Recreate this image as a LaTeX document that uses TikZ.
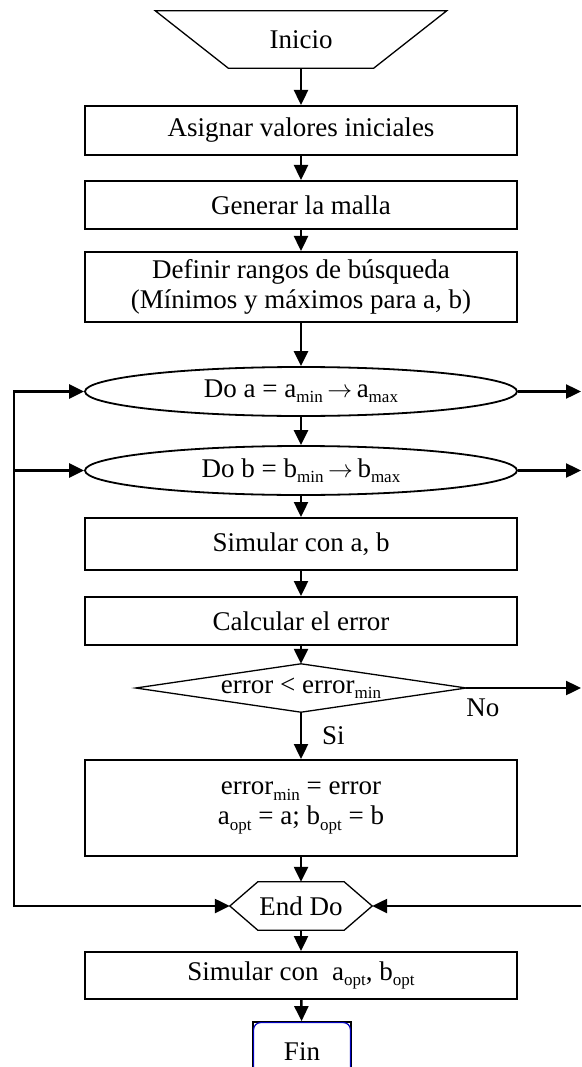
\documentclass[tikz,border=0pt]{standalone}
\usepackage{fontspec}
\setmainfont{Liberation Serif}
\usetikzlibrary{arrows.meta,calc,shapes.geometric}
% small lowered index, e.g. a_min
\newcommand{\lo}[1]{\raisebox{-0.2em}{\fontsize{17}{17}\selectfont #1}}
\newcommand{\goesto}{\,$\rightarrow$\,}

\begin{document}
\begin{tikzpicture}[x=1pt,y=-1pt,
  every node/.style={font=\fontsize{27}{30}\selectfont, inner sep=0pt, align=center},
  procbox/.style={draw, line width=2pt, minimum width=432pt},
  loopbox/.style={ellipse, draw, line width=1.8pt, minimum width=432pt, minimum height=49pt},
  flow/.style={line width=2.4pt, -{Triangle[length=15pt,width=14pt]}},
  thinline/.style={line width=1.3pt}]
\useasboundingbox (0,0) rectangle (581,1067);
\clip (0,0) rectangle (581,1067);

% start terminal (trapezoid)
\node[minimum width=145pt, minimum height=57pt] (ini) at (301,39.5) {Inicio};
\draw[thinline] ($(ini.north west)+(-73,0)$) -- ($(ini.north east)+(73,0)$)
  -- (ini.south east) -- (ini.south west) -- cycle;

% process steps
\node[procbox, minimum height=49pt] (b1) at (301,130.5) {Asignar valores iniciales};
\node[procbox, minimum height=48pt] (b2) at (301,205) {Generar la malla};
\node[procbox, minimum height=70pt] (b3) at (301,287) {Definir rangos de búsqueda\\(Mínimos y máximos para a, b)};
\node[loopbox] (ea) at (301,391.5) {Do a = a\lo{min}\goesto a\lo{max}};
\node[loopbox] (eb) at (301,470.5) {Do b = b\lo{min}\goesto b\lo{max}};
\node[procbox, minimum height=52pt] (s1) at (301,544) {Simular con a, b};
\node[procbox, minimum height=48pt] (ce) at (301,621) {Calcular el error};

% decision
\node[minimum width=330pt, minimum height=48pt] (dia) at (301,688) {error < error\lo{min}};
\draw[thinline] (dia.west) -- (dia.north) -- (dia.east) -- (dia.south) -- cycle;

\node[procbox, minimum height=96pt] (up) at (301,808) {error\lo{min} = error\\a\lo{opt} = a; b\lo{opt} = b};

% loop end (hexagon)
\node[minimum width=142pt, minimum height=48pt] (ed) at (301,906) {End Do};
\draw[thinline] (ed.west) -- ($(ed.north west)+(28,0)$) -- ($(ed.north east)+(-28,0)$)
  -- (ed.east) -- ($(ed.south east)+(-28,0)$) -- ($(ed.south west)+(28,0)$) -- cycle;

\node[procbox, minimum height=47pt] (s2) at (301,975.5) {Simular con\ \ a\lo{opt}, b\lo{opt}};

% end terminal
\node[draw, line width=1.8pt, minimum width=98pt, minimum height=60pt] (fin) at (302,1052) {Fin};
\draw[blue!75!black, line width=1.2pt, rounded corners=7pt]
  ($(fin.north west)+(1.5,1.5)$) rectangle ($(fin.south east)+(-1.5,-1.5)$);

% main flow
\draw[flow] (ini) -- (b1);
\draw[flow] (b1) -- (b2);
\draw[flow] (b2) -- (b3);
\draw[flow] (b3) -- (ea);
\draw[flow] (ea) -- (eb);
\draw[flow] (eb) -- (s1);
\draw[flow] (s1) -- (ce);
\draw[flow] (ce) -- (dia.north);
\draw[flow] (dia.south) -- (up);
\draw[flow] (up) -- (ed);
\draw[flow] (ed) -- (s2);
\draw[flow] (s2) -- (fin);

\node[anchor=base west] (no) at ($(dia.east)+(0,28)$) {No};
\node[anchor=base west] (si) at ($(dia.south)+(21,32)$) {Si};

% left return line
\coordinate (LT) at (14,391.5);
\coordinate (LM) at (14,470.5);
\coordinate (LB) at (14,906);
\draw[flow] (LB) |- (ea.west);
\draw[flow] (LT) |- (ed.west);
\draw[flow] (LM) -- (eb.west);

% right exits
\coordinate (RA) at (581,391.5);
\coordinate (RB) at (581,470.5);
\coordinate (RD) at (581,688);
\coordinate (RE) at (581,906);
\draw[flow] (ea.east) -- (RA);
\draw[flow] (eb.east) -- (RB);
\draw[flow] (dia.east) -- (RD);
\draw[flow] (RE) -- (ed.east);
\end{tikzpicture}
\end{document}
